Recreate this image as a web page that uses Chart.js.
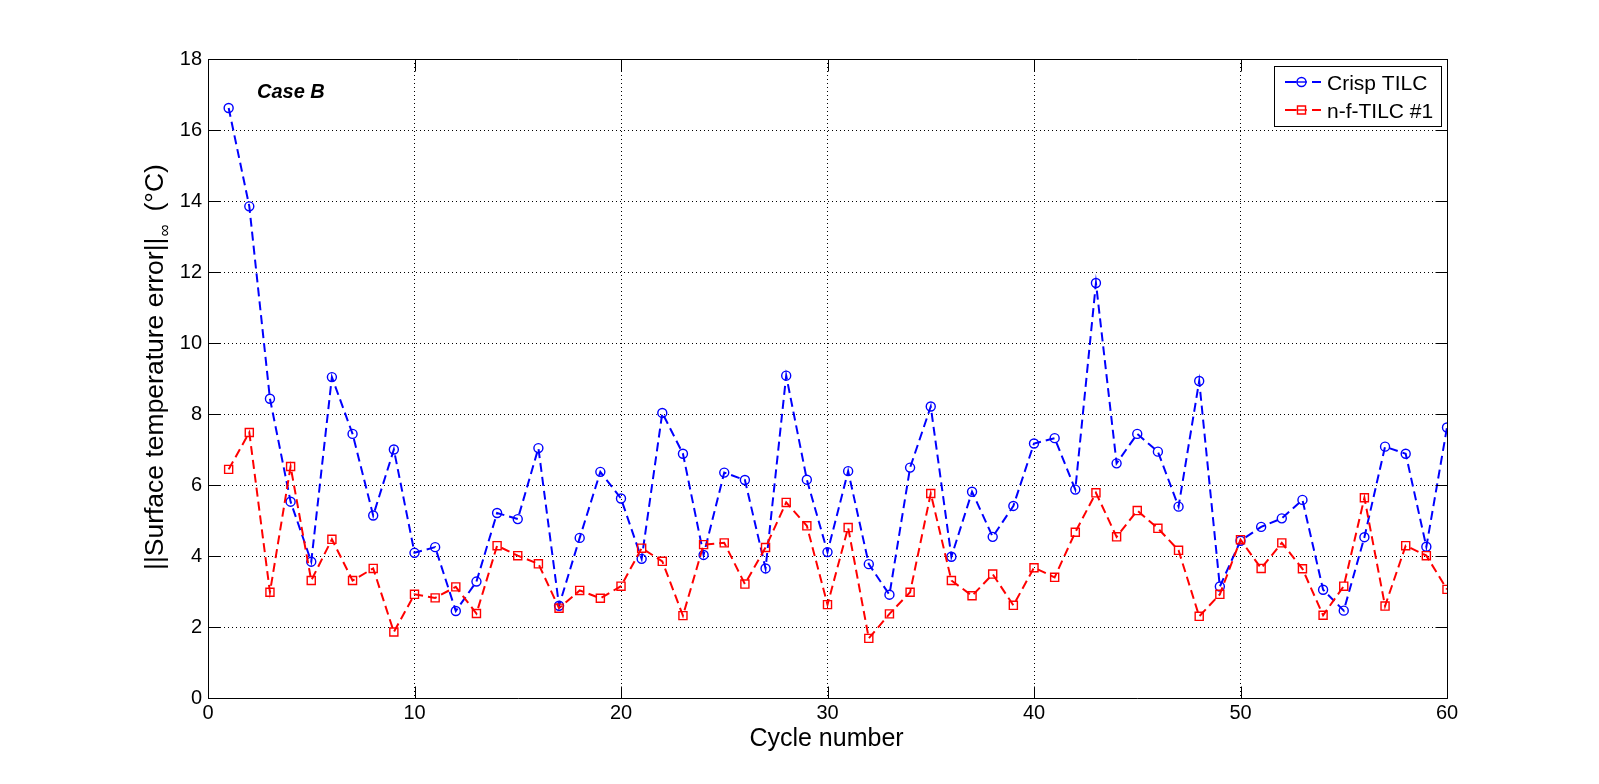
<!DOCTYPE html>
<html>
<head>
<meta charset="utf-8">
<script src="https://cdn.jsdelivr.net/npm/chart.js@4/dist/chart.umd.min.js"></script>
<style>
html,body{margin:0;padding:0;background:#fff;}
canvas{display:block;}
</style>
</head>
<body>
<canvas id="c" width="1599" height="784"></canvas>
<script>
// ---- data ----
const cycles = [1,2,3,4,5,6,7,8,9,10,11,12,13,14,15,16,17,18,19,20,
                21,22,23,24,25,26,27,28,29,30,31,32,33,34,35,36,37,38,39,40,
                41,42,43,44,45,46,47,48,49,50,51,52,53,54,55,56,57,58,59,60];
const crispTILC = [16.62,13.85,8.43,5.53,3.84,9.04,7.44,5.14,7.00,4.09,
                   4.25,2.45,3.28,5.21,5.04,7.04,2.60,4.51,6.37,5.62,
                   3.92,8.03,6.88,4.03,6.35,6.14,3.65,9.08,6.15,4.11,
                   6.39,3.77,2.91,6.49,8.21,3.98,5.81,4.54,5.41,7.17,
                   7.32,5.87,11.69,6.61,7.44,6.94,5.39,8.93,3.14,4.43,
                   4.82,5.06,5.58,3.05,2.46,4.53,7.08,6.88,4.26,7.62];
const nfTILC1 = [6.44,7.48,2.98,6.52,3.31,4.47,3.31,3.65,1.86,2.92,
                 2.82,3.13,2.38,4.29,4.01,3.78,2.53,3.03,2.81,3.15,
                 4.22,3.85,2.32,4.32,4.37,3.21,4.24,5.51,4.85,2.63,
                 4.80,1.68,2.37,2.98,5.76,3.31,2.88,3.49,2.61,3.67,
                 3.40,4.67,5.78,4.54,5.28,4.78,4.16,2.30,2.92,4.46,
                 3.65,4.37,3.64,2.33,3.15,5.64,2.59,4.29,4.01,3.06];
const xTicks = [0,10,20,30,40,50,60];
const yTicks = [0,2,4,6,8,10,12,14,16,18];
const seriesNames = ['Crisp TILC','n-f-TILC #1'];
const xTitle = 'Cycle number';
const yTitleMain = '||Surface temperature error||';
const yTitleSub = '\u221E';
const yTitleUnit = '(\u00B0C)';
const annotation = 'Case B';

const FONT = 'Liberation Sans, Arial, Helvetica, sans-serif';
const pts = ys => cycles.map((c,i)=>({x:c, y:ys[i]}));

const framePlugin = {
  id:'frame',
  afterDraw(chart){
    const {ctx, chartArea:a, scales} = chart;
    const xs = scales.x, ys = scales.y;
    const al = p => Math.round(p) + 0.5;
    ctx.save();
    ctx.setLineDash([]);
    ctx.strokeStyle = '#000';
    ctx.lineWidth = 1;
    const L = al(a.left), R = al(a.right), T = al(a.top), B = al(a.bottom);
    ctx.beginPath();
    ctx.rect(L, T, R-L, B-T);
    ctx.stroke();
    const tl = 12;
    ctx.beginPath();
    xTicks.forEach(v=>{
      const px = al(xs.getPixelForValue(v));
      ctx.moveTo(px, B); ctx.lineTo(px, B - tl);
      ctx.moveTo(px, T); ctx.lineTo(px, T + tl);
    });
    yTicks.forEach(v=>{
      const py = al(ys.getPixelForValue(v));
      ctx.moveTo(L, py); ctx.lineTo(L + tl, py);
      ctx.moveTo(R, py); ctx.lineTo(R - tl, py);
    });
    ctx.stroke();

    // annotation
    ctx.fillStyle = '#000';
    ctx.font = 'italic bold 20px ' + FONT;
    ctx.textAlign = 'left';
    ctx.textBaseline = 'alphabetic';
    ctx.fillText(annotation, a.left + 49, a.top + 39);

    // x title
    ctx.font = '25px ' + FONT;
    ctx.textAlign = 'center';
    ctx.fillText(xTitle, (a.left + a.right)/2 - 1, 746);

    // y title (rotated)
    ctx.save();
    ctx.translate(163, 570);
    ctx.rotate(-Math.PI/2);
    ctx.textAlign = 'left';
    ctx.font = '26.5px ' + FONT;
    const mw = ctx.measureText(yTitleMain).width;
    ctx.fillText(yTitleMain, 0, 0);
    ctx.font = '17px ' + FONT;
    const sw = ctx.measureText(yTitleSub).width;
    ctx.fillText(yTitleSub, mw + 1, 7);
    ctx.font = '26.5px ' + FONT;
    ctx.fillText(yTitleUnit, mw + sw + 14, 0);
    ctx.restore();

    // legend
    const lx = 1274.5, ly = 66.5, lw = 167, lh = 60;
    ctx.fillStyle = '#fff';
    ctx.fillRect(lx, ly, lw, lh);
    ctx.strokeStyle = '#000';
    ctx.lineWidth = 1;
    ctx.strokeRect(lx, ly, lw, lh);
    const rows = [82, 110];
    const bases = [90, 118];
    chart.data.datasets.forEach((ds, i)=>{
      const y = rows[i];
      ctx.strokeStyle = ds.borderColor;
      ctx.lineWidth = 2;
      ctx.beginPath();
      ctx.moveTo(1285, y); ctx.lineTo(1296, y);
      ctx.moveTo(1312, y); ctx.lineTo(1321, y);
      ctx.stroke();
      ctx.lineWidth = ds.pointBorderWidth;
      ctx.beginPath();
      if (ds.pointStyle === 'circle') {
        ctx.arc(1301.5, y, ds.pointRadius, 0, Math.PI*2);
      } else {
        const h = ds.pointRadius * Math.SQRT1_2;
        ctx.rect(1301.5 - h, y - h, 2*h, 2*h);
      }
      ctx.stroke();
      ctx.beginPath();
      ctx.moveTo(1296, y); ctx.lineTo(1307, y);
      ctx.stroke();
      ctx.fillStyle = '#000';
      ctx.font = '21px ' + FONT;
      ctx.textAlign = 'left';
      ctx.fillText(ds.label, 1327, bases[i]);
    });
    ctx.restore();
  }
};

new Chart(document.getElementById('c').getContext('2d'), {
  type: 'line',
  data: {
    datasets: [
      {
        label: seriesNames[0],
        data: pts(crispTILC),
        borderColor: '#0000ff',
        borderWidth: 2,
        borderDash: [9,5],
        pointStyle: 'circle',
        pointRadius: 4.5,
        pointBorderWidth: 1.4,
        pointBorderColor: '#0000ff',
        pointBackgroundColor: 'rgba(0,0,0,0)',
        tension: 0,
        fill: false,
        order: 1
      },
      {
        label: seriesNames[1],
        data: pts(nfTILC1),
        borderColor: '#ff0000',
        borderWidth: 2,
        borderDash: [9,5],
        pointStyle: 'rect',
        pointRadius: 5.7,
        pointBorderWidth: 1.4,
        pointBorderColor: '#ff0000',
        pointBackgroundColor: 'rgba(0,0,0,0)',
        tension: 0,
        fill: false,
        order: 0
      }
    ]
  },
  options: {
    responsive: false,
    animation: false,
    devicePixelRatio: 1,
    layout: { padding: { left: 0, top: 59, right: 152, bottom: 0 } },
    plugins: { legend: { display: false }, tooltip: { enabled: false } },
    scales: {
      x: {
        type: 'linear', min: 0, max: 60,
        afterBuildTicks: s => { s.ticks = xTicks.map(v => ({ value: v })); },
        afterFit: s => { s.height = 86; },
        ticks: { color: '#000', font: { family: FONT, size: 20 }, padding: 3, maxRotation: 0, autoSkip: false },
        grid: { color: '#000', lineWidth: 1, drawTicks: false },
        border: { display: false, dash: [1,3] }
      },
      y: {
        type: 'linear', min: 0, max: 18,
        afterBuildTicks: s => { s.ticks = yTicks.map(v => ({ value: v })); },
        afterFit: s => { s.width = 208; },
        ticks: { color: '#000', font: { family: FONT, size: 20 }, padding: 6, autoSkip: false },
        grid: { color: '#000', lineWidth: 1, drawTicks: false },
        border: { display: false, dash: [1,3] }
      }
    }
  },
  plugins: [framePlugin]
});
</script>
</body>
</html>
